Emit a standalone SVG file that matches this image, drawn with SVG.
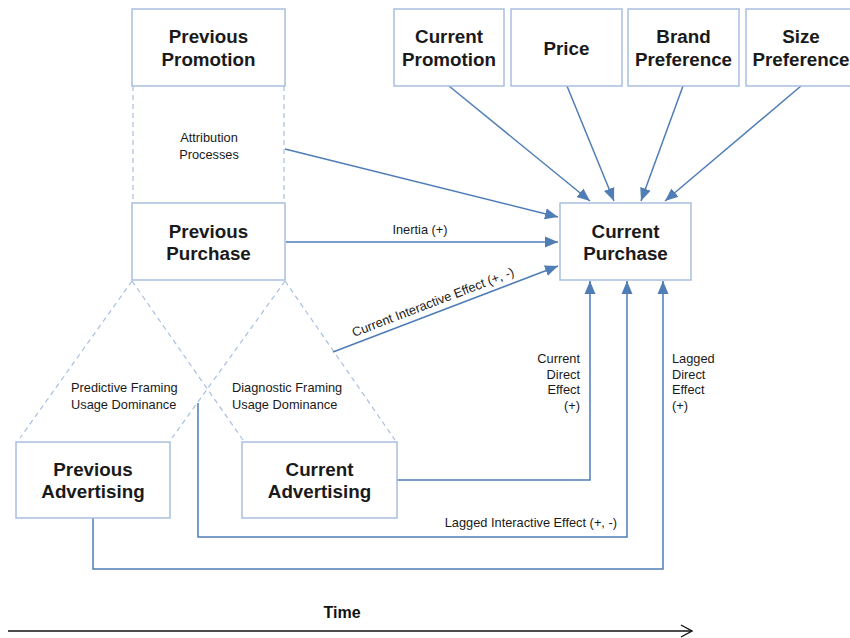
<svg xmlns="http://www.w3.org/2000/svg" width="850" height="638" viewBox="0 0 850 638">
<style>
.box{fill:#fff;stroke:#a9bfdf;stroke-width:1.5}
.nt{font-family:"Liberation Sans",Arial,sans-serif;font-weight:bold;font-size:18.8px;fill:#1a1a1a;text-anchor:middle}
.lb{font-family:"Liberation Sans",Arial,sans-serif;font-size:12.8px;fill:#1a1a1a}
.c{fill:none;stroke:#4f7db5;stroke-width:1.5}
.d{fill:none;stroke:#a9bfdf;stroke-width:1.2;stroke-dasharray:5,4}
</style>
<defs>
<marker id="ah" markerUnits="userSpaceOnUse" markerWidth="14" markerHeight="14" viewBox="0 0 14 14" refX="13" refY="7" orient="auto">
<path d="M0,1.5 L13,7 L0,12.5 z" fill="#4f7db5"/>
</marker>
<marker id="ta" markerUnits="userSpaceOnUse" markerWidth="14" markerHeight="14" viewBox="0 0 14 14" refX="12" refY="7" orient="auto">
<path d="M1,1 L12,7 L1,13" fill="none" stroke="#111" stroke-width="1.4"/>
</marker>
</defs>
<rect width="850" height="638" fill="#fff"/>
<g id="dashed">
<path class="d" d="M133,86 V203 M284,86 V203"/>
<path class="d" d="M132,281 L20,438 M132,281 L243,440 M285,281 L172,438 M285,281 L395,440"/>
</g>
<g id="connectors">
<path class="c" d="M449,86 L590,201" marker-end="url(#ah)"/>
<path class="c" d="M567,86 L614,201" marker-end="url(#ah)"/>
<path class="c" d="M683,86 L641,201" marker-end="url(#ah)"/>
<path class="c" d="M801,86 L665,201" marker-end="url(#ah)"/>
<path class="c" d="M285,149 L558,217" marker-end="url(#ah)"/>
<path class="c" d="M286,242 L558,242" marker-end="url(#ah)"/>
<path class="c" d="M333,352 L558,266" marker-end="url(#ah)"/>
<path class="c" d="M397,480 H590 V281" marker-end="url(#ah)"/>
<path class="c" d="M198,403 V537 H627 V281" marker-end="url(#ah)"/>
<path class="c" d="M93,518 V569 H663 V281" marker-end="url(#ah)"/>
</g>
<g id="prev-promotion"><rect class="box" x="132" y="9" width="153" height="77"/><text class="nt" x="208.5" y="43">Previous</text><text class="nt" x="208.5" y="66">Promotion</text></g>
<g id="prev-purchase"><rect class="box" x="132" y="203" width="153" height="77"/><text class="nt" x="208.5" y="238">Previous</text><text class="nt" x="208.5" y="260">Purchase</text></g>
<g id="cur-promotion"><rect class="box" x="394" y="9" width="110" height="77"/><text class="nt" x="449" y="43">Current</text><text class="nt" x="449" y="66">Promotion</text></g>
<g id="price"><rect class="box" x="511" y="9" width="111" height="77"/><text class="nt" x="566.5" y="55">Price</text></g>
<g id="brand-pref"><rect class="box" x="628" y="9" width="111" height="77"/><text class="nt" x="683.5" y="43">Brand</text><text class="nt" x="683.5" y="66">Preference</text></g>
<g id="size-pref"><rect class="box" x="746" y="9" width="110" height="77"/><text class="nt" x="801" y="43">Size</text><text class="nt" x="801" y="66">Preference</text></g>
<g id="cur-purchase"><rect class="box" x="560" y="203" width="131" height="77"/><text class="nt" x="625.5" y="238">Current</text><text class="nt" x="625.5" y="260">Purchase</text></g>
<g id="prev-advertising"><rect class="box" x="16" y="442" width="154" height="76"/><text class="nt" x="93" y="476">Previous</text><text class="nt" x="93" y="498">Advertising</text></g>
<g id="cur-advertising"><rect class="box" x="242" y="442" width="155" height="76"/><text class="nt" x="319.5" y="476">Current</text><text class="nt" x="319.5" y="498">Advertising</text></g>
<g id="labels">
<text class="lb" x="209" y="142" text-anchor="middle">Attribution</text>
<text class="lb" x="209" y="159" text-anchor="middle">Processes</text>
<text class="lb" x="420" y="234" text-anchor="middle">Inertia (+)</text>
<text class="lb" x="354" y="337" transform="rotate(-20.9 354 337)">Current Interactive Effect (+, -)</text>
<text class="lb" x="71" y="392">Predictive Framing</text>
<text class="lb" x="71" y="409">Usage Dominance</text>
<text class="lb" x="232" y="392">Diagnostic Framing</text>
<text class="lb" x="232" y="409">Usage Dominance</text>
<text class="lb" x="580" y="363" text-anchor="end">Current</text>
<text class="lb" x="580" y="378.5" text-anchor="end">Direct</text>
<text class="lb" x="580" y="394" text-anchor="end">Effect</text>
<text class="lb" x="580" y="410" text-anchor="end">(+)</text>
<text class="lb" x="672" y="363">Lagged</text>
<text class="lb" x="672" y="378.5">Direct</text>
<text class="lb" x="672" y="394">Effect</text>
<text class="lb" x="672" y="410">(+)</text>
<text class="lb" x="617" y="527" text-anchor="end">Lagged Interactive Effect (+, -)</text>
</g>
<g id="time">
<text x="342" y="618" text-anchor="middle" font-family="Liberation Sans Narrow,Liberation Sans,Arial,sans-serif" font-weight="bold" font-size="16" fill="#111">Time</text>
<path d="M8,631 H692" fill="none" stroke="#111" stroke-width="1.4" marker-end="url(#ta)"/>
</g>
</svg>
